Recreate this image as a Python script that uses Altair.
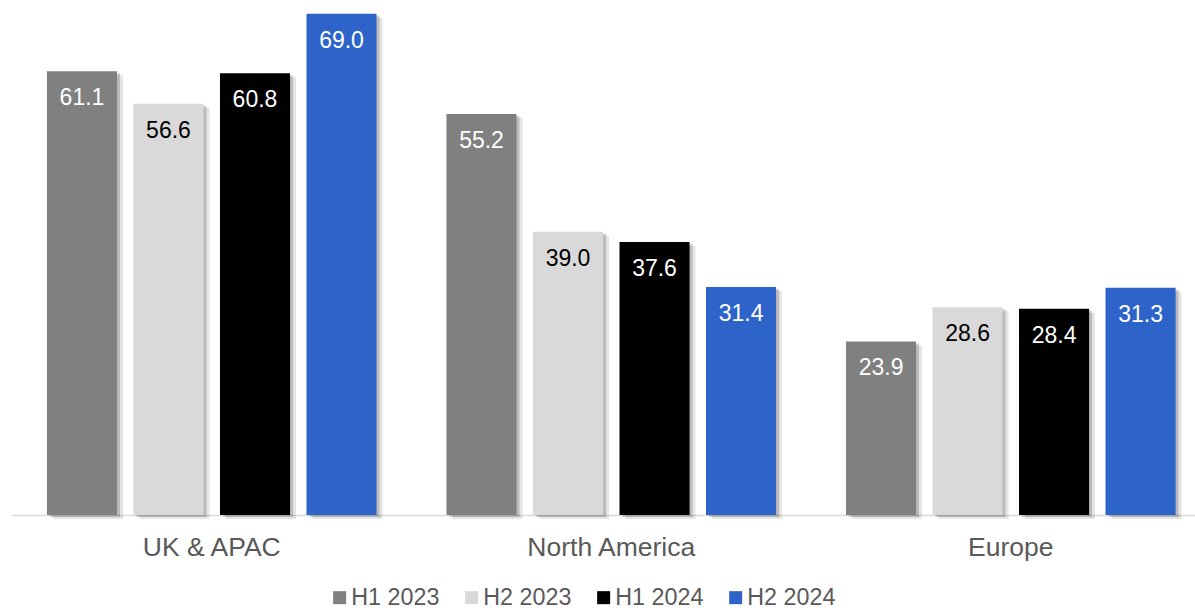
import altair as alt
import pandas as pd

regions = ["UK & APAC", "North America", "Europe"]
series = ["H1 2023", "H2 2023", "H1 2024", "H2 2024"]
colors = ["#808080", "#d9d9d9", "#000000", "#2e64c9"]
h1_2023 = [61.1, 55.2, 23.9]
h2_2023 = [56.6, 39.0, 28.6]
h1_2024 = [60.8, 37.6, 28.4]
h2_2024 = [69.0, 31.4, 31.3]

rows = []
for s, vals in zip(series, [h1_2023, h2_2023, h1_2024, h2_2024]):
    for r, v in zip(regions, vals):
        rows.append({"region": r, "series": s, "value": v})
df = pd.DataFrame(rows)

FONT = "Liberation Sans"

x_enc = alt.X("region:N", sort=regions, title=None,
              scale=alt.Scale(paddingInner=0.175, paddingOuter=0.068, align=0.643),
              axis=alt.Axis(labelAngle=0, labelFontSize=26.5, labelColor="#595959", labelFont=FONT,
                            ticks=False, labelPadding=19, domainColor="#d9d9d9", domainWidth=1.5))


def xo(shift=0):
    if shift:
        return alt.XOffset("series:N", sort=series,
                           scale=alt.Scale(type="band", paddingInner=0.19, paddingOuter=0,
                                           range=[shift, {"expr": "bandwidth('x') + %d" % shift}]))
    return alt.XOffset("series:N", sort=series,
                       scale=alt.Scale(type="band", paddingInner=0.19, paddingOuter=0))


y_enc = alt.Y("value:Q", scale=alt.Scale(domain=[0, 70.9], nice=False), axis=None)

base = alt.Chart(df)

shadow1 = base.mark_bar(color="#000000", opacity=0.10, yOffset=4).encode(
    x=x_enc, xOffset=xo(6), y=y_enc)
shadow2 = base.mark_bar(color="#000000", opacity=0.18, yOffset=2).encode(
    x=x_enc, xOffset=xo(3), y=y_enc)

bars = base.mark_bar().encode(
    x=x_enc, xOffset=xo(), y=y_enc,
    color=alt.Color("series:N", sort=series,
                    scale=alt.Scale(domain=series, range=colors),
                    legend=alt.Legend(title=None, orient="none", direction="horizontal",
                                      legendX=316, legendY=586,
                                      labelFontSize=23.3, labelColor="#595959", labelFont=FONT,
                                      symbolType="square", symbolSize=169, symbolStrokeWidth=0,
                                      labelOffset=0, columnPadding=20)))

labels = base.mark_text(baseline="middle", align="center", dy=27, fontSize=23, font=FONT).encode(
    x=x_enc, xOffset=xo(), y=y_enc,
    text=alt.Text("value:Q", format=".1f"),
    color=alt.when(alt.datum.series == "H2 2023").then(alt.value("#000000")).otherwise(alt.value("#ffffff")))

chart = alt.layer(shadow1, shadow2, alt.layer(bars, labels)).resolve_scale(
    xOffset="independent"
).properties(
    width=1183, height=515,
    padding={"left": 12, "top": 0, "right": 0, "bottom": 0}
).configure_view(stroke=None)

chart.save("out.html", embed_options={"renderer": "svg", "actions": False})
